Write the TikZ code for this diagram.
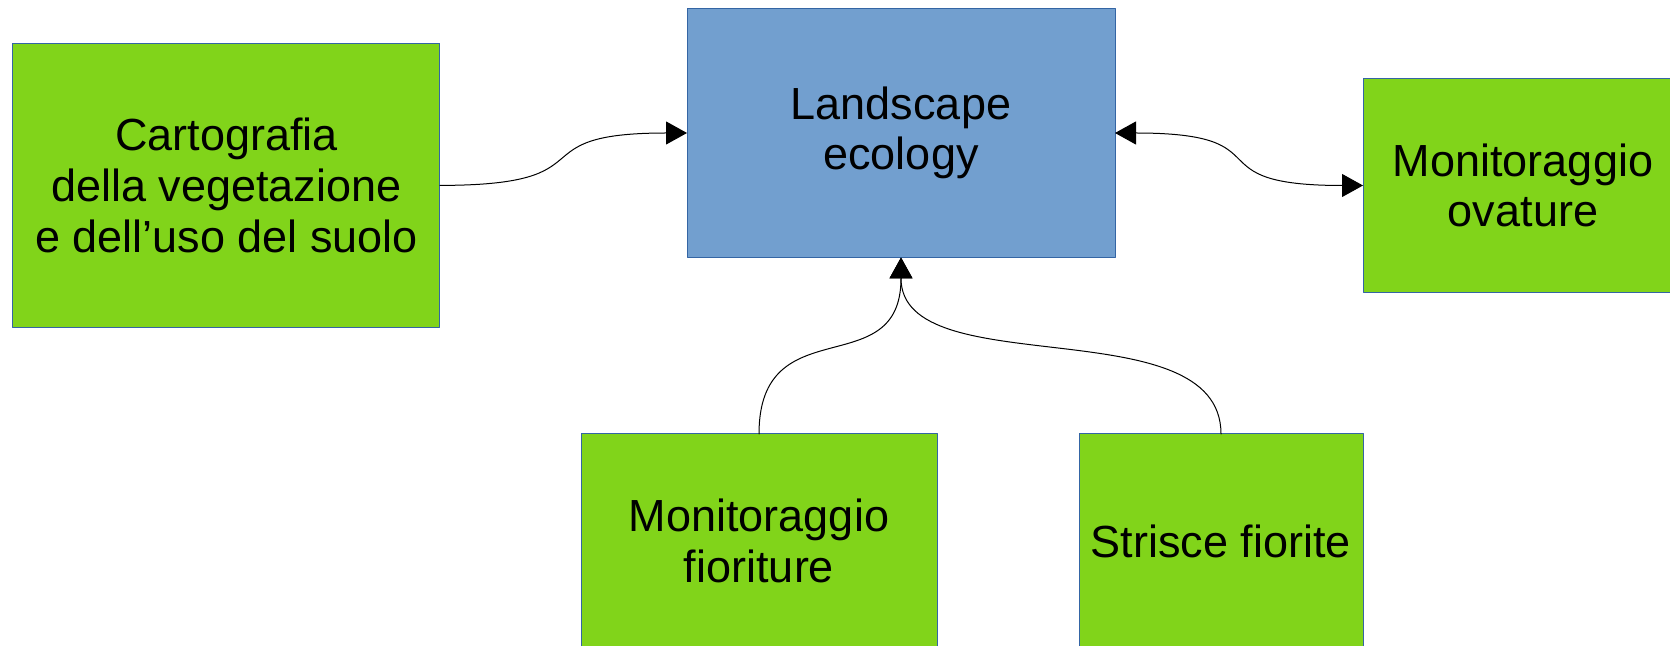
\documentclass[tikz,border=0pt]{standalone}
\usepackage{fontspec}
\setmainfont{Liberation Sans}
\usetikzlibrary{arrows.meta}
\definecolor{leaf}{HTML}{81D41A}
\definecolor{sky}{HTML}{729FCF}
\definecolor{rim}{HTML}{3465A4}
\begin{document}
\begin{tikzpicture}[x=0.5pt,y=-0.5pt,line cap=round,line join=round,
  lotip/.tip={Triangle[length=10.5pt,width=11.5pt]},
  box/.style={draw=rim,line width=0.5pt,fill=leaf,inner sep=0pt,outer sep=0pt,
    align=center,font=\fontsize{22.5}{25.3}\selectfont},
  conn/.style={line width=0.5pt,-lotip}]
\useasboundingbox (0,0) rectangle (1670,646);
\node[box,fill=sky,minimum width=214pt,minimum height=124.5pt] (land) at (901,133) {Landscape\\ecology};
\node[box,minimum width=213.5pt,minimum height=142pt] (carto) at (226.4,185.4)
  {Cartografia\\della vegetazione\\e dell’uso del suolo};
\node[box,minimum width=160pt,minimum height=107pt] (ovat) at (1523,185.5) {Monitoraggio\\ovature};
\node[box,minimum width=178pt,minimum height=107pt] (fior) at (759,541) {Monitoraggio\\fioriture};
\node[box,minimum width=142pt,minimum height=107pt] (stri) at (1221,541) {Strisce fiorite};
% connectors
\draw[conn] (carto.east) .. controls +(174,0) and +(-174,0) .. (land.west);
\draw[conn,lotip-lotip] (land.east) .. controls +(174,0) and +(-174,0) .. (ovat.west);
\foreach \s in {fior,stri}
\draw[conn] (\s.north) .. controls +(0,-128) and +(0,128) .. (land.south);
\end{tikzpicture}
\end{document}
